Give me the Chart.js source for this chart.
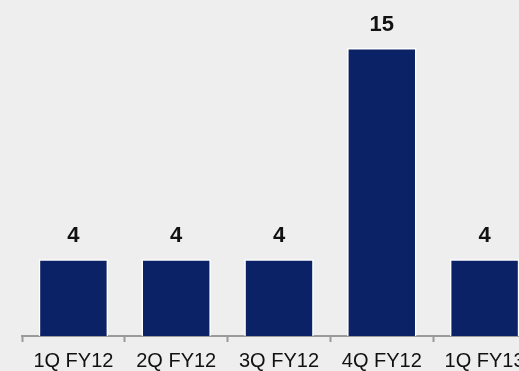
<!DOCTYPE html>
<html>
<head>
<meta charset="utf-8">
<script src="https://cdn.jsdelivr.net/npm/chart.js@4"></script>
<style>
  html, body { margin: 0; padding: 0; background: #eeeeee; overflow: hidden; }
  #wrap { width: 519px; height: 371px; overflow: hidden; }
</style>
</head>
<body>
<div id="wrap"><canvas id="barCanvas" width="540" height="380"></canvas></div>
<script>
// quarterly values
const quarters = ['1Q FY12', '2Q FY12', '3Q FY12', '4Q FY12', '1Q FY13'];
const values = [4, 4, 4, 15, 4];

// draws the value above each bar
const valueLabels = {
    id: 'valueLabels',
    afterDatasetsDraw(chart) {
        const c = chart.ctx;
        c.save();
        c.font = 'bold 22px "Liberation Sans", Arial, sans-serif';
        c.fillStyle = '#111111';
        c.textAlign = 'center';
        c.textBaseline = 'alphabetic';
        chart.getDatasetMeta(0).data.forEach((bar, i) => {
            c.fillText(String(values[i]), bar.x, bar.y - 17);
        });
        c.restore();
    }
};

new Chart(document.getElementById('barCanvas'), {
    type: 'bar',
    data: {
        labels: quarters,
        datasets: [{
            data: values,
            backgroundColor: '#0b2266',
            borderColor: '#ffffff',
            borderWidth: 1.5,
            categoryPercentage: 1,
            barPercentage: 0.675
        }]
    },
    options: {
        responsive: false,
        animation: false,
        layout: { padding: { left: 22, right: 4, top: 0, bottom: 0 } },
        plugins: { legend: { display: false }, tooltip: { enabled: false } },
        scales: {
            y: { display: false, min: 0, max: 17.5 },
            x: {
                border: { display: true, color: '#9a9a9a', width: 2 },
                grid: { drawOnChartArea: false, tickLength: 6, tickColor: '#9a9a9a', tickWidth: 2 },
                ticks: {
                    color: '#111111',
                    padding: 7,
                    maxRotation: 0,
                    autoSkip: false,
                    font: { family: '"Liberation Sans", Arial, sans-serif', size: 20 }
                }
            }
        }
    },
    plugins: [valueLabels]
});
</script>
</body>
</html>
